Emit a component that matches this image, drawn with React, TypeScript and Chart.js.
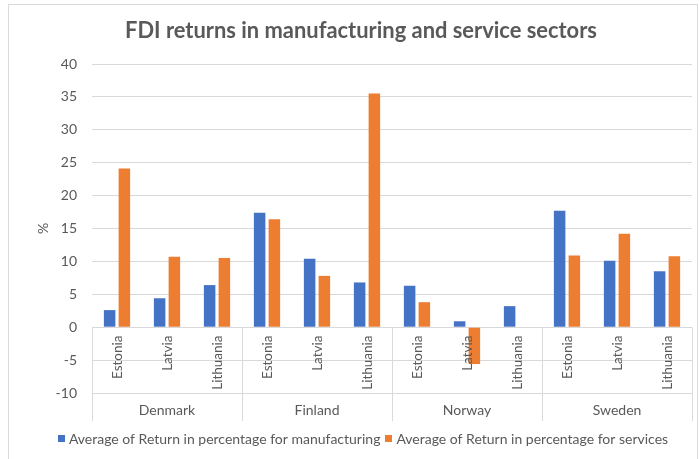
import React, { useEffect, useRef } from "react";
import { Chart, registerables } from "chart.js";

Chart.register(...registerables);

const chartTitle = "FDI returns in manufacturing and service sectors";
const countries = ["Denmark", "Finland", "Norway", "Sweden"];
const hosts = ["Estonia", "Latvia", "Lithuania"];
const categoryHosts = countries.flatMap(() => hosts);
const manufacturing = [2.6, 4.4, 6.4, 17.4, 10.4, 6.8, 6.3, 0.9, 3.2, 17.7, 10.1, 8.5];
const services: (number | null)[] = [24.1, 10.7, 10.5, 16.4, 7.8, 35.5, 3.8, -5.6, null, 10.9, 14.2, 10.8];
const seriesNames = [
  "Average of Return in percentage for manufacturing",
  "Average of Return in percentage for services",
];
const yMin = -10;
const yMax = 40;
const yStep = 5;
const yTitle = "%";

const TEXT = "#595959";
const GRID = "#d9d9d9";
const FONT = "Lato, 'Open Sans', sans-serif";

const excelPlugin = {
  id: "excelDecor",
  beforeDraw(chart: any) {
    const ctx = chart.ctx;
    ctx.save();
    ctx.fillStyle = "#ffffff";
    ctx.fillRect(0, 0, chart.width, chart.height);
    ctx.strokeStyle = GRID;
    ctx.lineWidth = 1;
    ctx.strokeRect(8.5, 4.5, chart.width - 10, chart.height + 20);
    ctx.restore();
  },
  afterDraw(chart: any) {
    const ctx = chart.ctx;
    const x = chart.scales.x;
    const y = chart.scales.y;
    const n = chart.data.labels.length;
    const step = x.getPixelForValue(1) - x.getPixelForValue(0);
    const y0 = Math.round(y.getPixelForValue(0)) + 0.5;
    const bottom = 421;
    const per = hosts.length;
    ctx.save();
    // group separators
    ctx.strokeStyle = GRID;
    ctx.lineWidth = 1;
    for (let k = 0; k <= countries.length; k++) {
      const idx = Math.min(k * per, n - 1);
      let px = x.getPixelForValue(idx) + (k * per >= n ? step / 2 : -step / 2);
      px = Math.round(px) + 0.5;
      ctx.beginPath();
      ctx.moveTo(px, y0);
      ctx.lineTo(px, bottom);
      ctx.stroke();
    }
    // category labels (rotated)
    ctx.fillStyle = TEXT;
    ctx.font = `13.5px ${FONT}`;
    for (let i = 0; i < n; i++) {
      const px = x.getPixelForValue(i);
      ctx.save();
      ctx.translate(px + 1, y0 + 8);
      ctx.rotate(-Math.PI / 2);
      ctx.textAlign = "right";
      ctx.textBaseline = "middle";
      ctx.fillText(chart.data.labels[i], 0, 0);
      ctx.restore();
    }
    // group labels
    ctx.font = `14px ${FONT}`;
    ctx.textAlign = "center";
    ctx.textBaseline = "middle";
    countries.forEach((c, k) => {
      const a = x.getPixelForValue(k * per) - step / 2;
      const b = x.getPixelForValue(k * per + per - 1) + step / 2;
      ctx.fillText(c, (a + b) / 2, 410);
    });
    // title
    ctx.font = `bold 20px ${FONT}`;
    const tw = ctx.measureText(chartTitle).width;
    const tsize = 20 * (472 / tw);
    ctx.font = `bold ${tsize.toFixed(2)}px ${FONT}`;
    ctx.fillStyle = TEXT;
    ctx.textAlign = "center";
    ctx.textBaseline = "middle";
    ctx.fillText(chartTitle, 361, 31);
    // legend
    ctx.font = `14px ${FONT}`;
    const ds = chart.data.datasets;
    const box = 7;
    const widths = ds.map((d: any) => box + 4 + ctx.measureText(d.label).width);
    const total = widths.reduce((s: number, w: number) => s + w, 0) + 5 * (ds.length - 1);
    let lx = 363 - total / 2;
    const ly = 439;
    ds.forEach((d: any, i: number) => {
      ctx.fillStyle = d.backgroundColor;
      ctx.fillRect(Math.round(lx), ly - 4, box, box);
      ctx.fillStyle = TEXT;
      ctx.textAlign = "left";
      ctx.textBaseline = "middle";
      ctx.fillText(d.label, lx + box + 4, ly);
      lx += widths[i] + 5;
    });
    ctx.restore();
  },
};

export default function App() {
  const ref = useRef<HTMLCanvasElement | null>(null);
  useEffect(() => {
    if (!ref.current) return;
    const chart = new Chart(ref.current, {
      type: "bar",
      data: {
        labels: categoryHosts,
        datasets: [
          {
            label: seriesNames[0],
            data: manufacturing,
            backgroundColor: "#4472C4",
            categoryPercentage: 0.59,
            barPercentage: 0.78,
          },
          {
            label: seriesNames[1],
            data: services,
            backgroundColor: "#ED7D31",
            categoryPercentage: 0.59,
            barPercentage: 0.78,
          },
        ],
      },
      options: {
        responsive: false,
        animation: false,
        devicePixelRatio: 1,
        layout: { padding: { top: 64, bottom: 66, right: 7, left: 0 } },
        plugins: {
          legend: { display: false },
          title: { display: false },
          tooltip: { enabled: false },
        },
        scales: {
          x: { display: false, offset: true },
          y: {
            min: yMin,
            max: yMax,
            border: { display: false },
            grid: { color: GRID, drawTicks: false, lineWidth: 1 },
            ticks: {
              stepSize: yStep,
              color: TEXT,
              padding: 15,
              font: { family: FONT, size: 14 },
            },
            title: {
              display: true,
              text: yTitle,
              color: TEXT,
              font: { family: FONT, size: 14 },
              padding: { top: 35, bottom: 0 },
            },
            afterFit: (s: any) => {
              s.width = 92;
            },
          },
        },
      },
      plugins: [excelPlugin],
    });
    return () => chart.destroy();
  }, []);
  return (
    <div style={{ position: "fixed", left: 0, top: 0, width: 699, height: 459 }}>
      <canvas ref={ref} width={699} height={459} style={{ display: "block" }} />
    </div>
  );
}
